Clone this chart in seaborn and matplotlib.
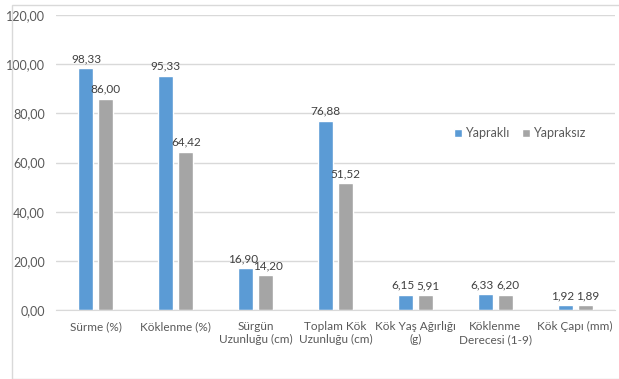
import pandas as pd
import matplotlib.pyplot as plt
import matplotlib.patches as mpatches
import seaborn as sns

# Data
categories = ["Sürme (%)", "Köklenme (%)", "Sürgün\nUzunluğu (cm)", "Toplam Kök\nUzunluğu (cm)",
              "Kök Yaş Ağırlığı\n(g)", "Köklenme\nDerecesi (1-9)", "Kök Çapı (mm)"]
yaprakli = [98.33, 95.33, 16.90, 76.88, 6.15, 6.33, 1.92]
yapraksiz = [86.00, 64.42, 14.20, 51.52, 5.91, 6.20, 1.89]
series_names = ["Yapraklı", "Yapraksız"]
y_ticks = [0, 20, 40, 60, 80, 100, 120]

df = pd.DataFrame({
    "kategori": categories * 2,
    "deger": yaprakli + yapraksiz,
    "seri": [series_names[0]] * len(categories) + [series_names[1]] * len(categories),
})

sns.set_style("white")
plt.rcParams['font.family'] = ['Lato', 'DejaVu Sans']

text_color = "#595959"
fig = plt.figure(figsize=(6.19, 3.79), dpi=100)
ax = fig.add_axes([56 / 619, 69 / 379, 559 / 619, 295 / 379])

# outer chart frame
fig.patches.append(mpatches.Rectangle((12 / 619, 0), 1, 374 / 379, transform=fig.transFigure,
                                      fill=False, edgecolor="#D9D9D9", linewidth=1))

sns.barplot(data=df, x="kategori", y="deger", hue="seri", order=categories,
            palette=["#5B9BD5", "#A5A5A5"], saturation=1, width=0.5, gap=0.25,
            ax=ax, legend=True)

# value labels; pairs with close heights get nudged apart a little
for k, cont in enumerate(ax.containers):
    labels = [f"{v:.2f}".replace(".", ",") for v in cont.datavalues]
    anns = ax.bar_label(cont, labels=labels, padding=3, fontsize=8.5, color="#404040")
    for i, ann in enumerate(anns):
        if abs(yaprakli[i] - yapraksiz[i]) < 5:
            ann.xyann = (-2 if k == 0 else 2, 3)

ax.set_ylim(0, 120)
ax.set_xlim(-0.5, len(categories) - 0.5)
ax.set_yticks(y_ticks)
ax.set_yticklabels([f"{t:.2f}".replace(".", ",") for t in y_ticks], fontsize=9, color=text_color)
ax.set_xticks(range(len(categories)))
ax.set_xticklabels(categories, fontsize=8.5, color=text_color)
ax.tick_params(axis="both", length=0, pad=8)
ax.set_xlabel("")
ax.set_ylabel("")
ax.yaxis.grid(True, color="#D9D9D9", linewidth=1)
ax.set_axisbelow(True)
for side in ["left", "right", "top"]:
    ax.spines[side].set_visible(False)
ax.spines["bottom"].set_color("#D9D9D9")

leg = ax.legend(loc="center", bbox_to_anchor=(0.83, 0.60), ncol=2, frameon=False,
                fontsize=9, handlelength=0.6, handleheight=0.6, handletextpad=0.3,
                columnspacing=1.0)
for t in leg.get_texts():
    t.set_color(text_color)

fig.savefig("out.png", dpi=100)
